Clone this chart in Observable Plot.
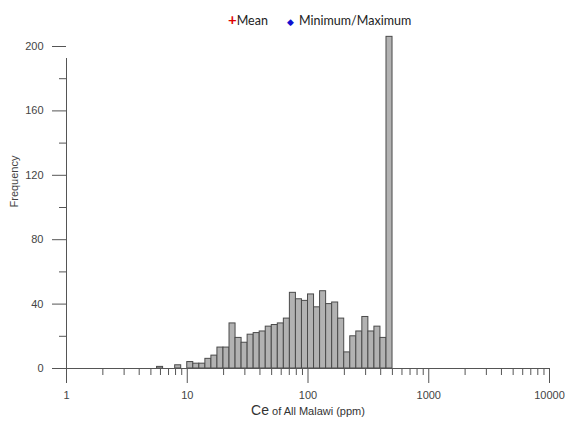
<!DOCTYPE html>
<html>
<head>
<meta charset="utf-8">
<script src="https://cdn.jsdelivr.net/npm/d3@7"></script>
<script src="https://cdn.jsdelivr.net/npm/@observablehq/plot@0.6"></script>
<style>
  body { margin: 0; background: #fff; }
  #wrap { position: relative; width: 565px; height: 421px; font-family: "Liberation Sans", Arial, sans-serif; }
  #legend { position: absolute; top: 10px; left: 228px; font-family: Lato, "Open Sans", sans-serif; font-size: 12.5px; color: #222; white-space: nowrap; }
  #legend .plus { color: #e00000; font-size: 15px; font-weight: bold; }
  #legend .dia { color: #1010d0; font-size: 9px; margin-left: 19px; margin-right: 2px; }
  #xtitle { position: absolute; top: 402px; left: 0; width: 616px; text-align: center; color: #333; font-size: 11px; white-space: nowrap; }
  #xtitle .big { font-size: 14px; }
</style>
</head>
<body>
<div id="wrap">
  <div id="legend"><span class="plus">+</span>Mean<span class="dia">&#9670;</span> Minimum/Maximum</div>
  <div id="chart"></div>
  <div id="xtitle"><span class="big">Ce</span> of All Malawi (ppm)</div>
</div>
<script>
// Histogram bins: lower edge of each bin (ppm), log-width 0.05 decade
const binLow = [5.623, 7.943,
  10.00, 11.22, 12.59, 14.13, 15.85, 17.78, 19.95, 22.39, 25.12, 28.18,
  31.62, 35.48, 39.81, 44.67, 50.12, 56.23, 63.10, 70.79, 79.43, 89.13,
  100.0, 112.2, 125.9, 141.3, 158.5, 177.8, 199.5, 223.9, 251.2, 281.8,
  316.2, 354.8, 398.1, 446.7];
const binLogWidth = 0.05;
const counts = [1, 2,
  4, 3, 3, 6, 8, 13, 13, 28, 19, 16,
  21, 22, 23, 26, 27, 28, 31, 47, 43, 42,
  46, 38, 48, 40, 41, 31, 10, 20, 23, 32,
  23, 26, 19, 206];

const yMajor = [0, 40, 80, 120, 160, 200];
const yMinor = [20, 60, 100, 140, 180];
const xMajor = [1, 10, 100, 1000, 10000];
const xMinor = [2,3,4,5,6,7,8,9, 20,30,40,50,60,70,80,90, 200,300,400,500,600,700,800,900, 2000,3000,4000,5000,6000,7000,8000,9000];

const idx = d3.range(counts.length);
const axisColor = "#555";

const chart = Plot.plot({
  width: 565,
  height: 421,
  marginLeft: 66,
  marginRight: 16,
  marginTop: 46,
  marginBottom: 53,
  style: { fontFamily: "'Liberation Sans', Arial, sans-serif", fontSize: "11px", color: "#444", background: "#fff" },
  x: { type: "log", domain: [1, 10000], axis: null },
  y: { domain: [0, 200], axis: null },
  marks: [
    Plot.rectY(idx, {
      x1: i => binLow[i],
      x2: i => binLow[i] * Math.pow(10, binLogWidth),
      y1: 0,
      y2: i => counts[i],
      fill: "#b2b2b2",
      stroke: "#4a4a4a",
      strokeWidth: 1
    }),
    Plot.axisY({ ticks: yMajor, tickSize: 14, tickPadding: 9, tickFormat: d => String(d), stroke: axisColor, fill: "#444", label: null }),
    Plot.axisY({ ticks: yMinor, tickSize: 7, tickFormat: () => "", stroke: axisColor, label: null }),
    Plot.axisX({ ticks: xMajor, tickSize: 15, tickPadding: 8, tickFormat: d => String(d), stroke: axisColor, fill: "#444", label: null }),
    Plot.axisX({ ticks: xMinor, tickSize: 7, tickFormat: () => "", stroke: axisColor, label: null }),
    Plot.ruleY([0], { stroke: axisColor }),
    Plot.ruleX([1], { y1: 0, y2: 200, insetBottom: -12, stroke: axisColor }),
    Plot.text(["Frequency"], { frameAnchor: "left", rotate: -90, dx: -52, fill: "#444", fontSize: 11 })
  ]
});
document.getElementById("chart").appendChild(chart);
</script>
</body>
</html>
